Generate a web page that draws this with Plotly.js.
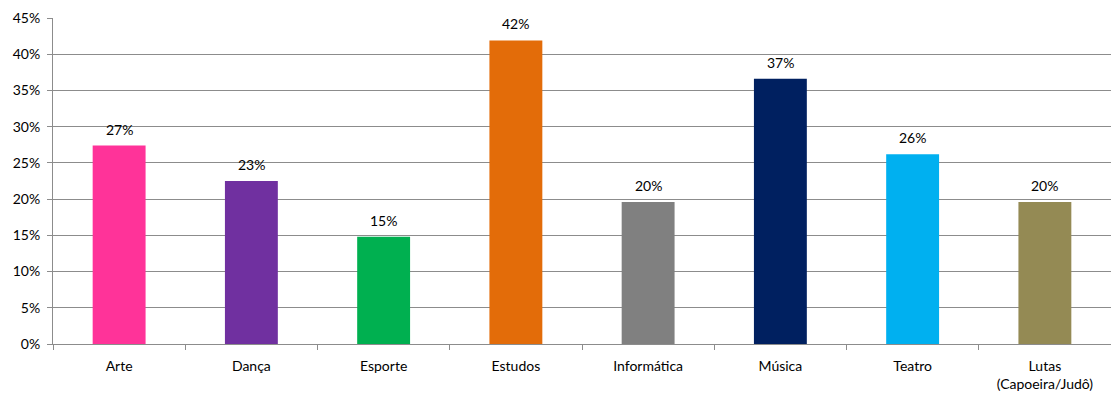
<!DOCTYPE html>
<html>
<head>
<meta charset="utf-8">
<script src="https://cdn.plot.ly/plotly-3.0.1.min.js"></script>
<style>html,body{margin:0;padding:0;background:#fff;}#chart{width:1111px;height:394px;}</style>
</head>
<body>
<div id="chart"></div>
<script>
var categories = ["Arte", "Dança", "Esporte", "Estudos", "Informática", "Música", "Teatro", "Lutas<br>(Capoeira/Judô)"];
var values = [0.274, 0.225, 0.148, 0.419, 0.196, 0.366, 0.262, 0.196];
var labels = ["27%", "23%", "15%", "42%", "20%", "37%", "26%", "20%"];
var colors = ["#FF3399", "#7030A0", "#00B050", "#E36C09", "#808080", "#002060", "#00B0F0", "#948A54"];
var yTickVals = [0, 0.05, 0.10, 0.15, 0.20, 0.25, 0.30, 0.35, 0.40, 0.45];
var yTickText = ["0%", "5%", "10%", "15%", "20%", "25%", "30%", "35%", "40%", "45%"];

var font = {family: "Lato, 'Open Sans', sans-serif", size: 14, color: "#000"};

var trace = {
  type: "bar",
  x: categories,
  y: values,
  marker: {color: colors, line: {width: 0}},
  width: 0.4,
  hoverinfo: "none"
};

var annotations = categories.map(function(c, i) {
  return {x: c, y: values[i], text: labels[i], showarrow: false, yanchor: "bottom", yshift: 6, font: font};
});

var layout = {
  width: 1111, height: 394,
  margin: {l: 53, r: 0, t: 18, b: 50},
  paper_bgcolor: "#fff", plot_bgcolor: "#fff",
  showlegend: false,
  font: font,
  bargap: 0.6,
  xaxis: {
    type: "category",
    range: [-0.5, 7.5],
    showline: true, linecolor: "#8c8c8c", linewidth: 1,
    ticks: "outside", tickson: "boundaries", ticklen: 5, tickcolor: "#8c8c8c",
    ticklabelstandoff: 9,
    showgrid: false, tickfont: font, automargin: false
  },
  yaxis: {
    range: [0, 0.45],
    tickvals: yTickVals, ticktext: yTickText,
    showline: true, linecolor: "#8c8c8c", linewidth: 1,
    ticks: "outside", ticklen: 5, tickcolor: "#8c8c8c",
    ticklabelstandoff: 4,
    showgrid: true, gridcolor: "#8c8c8c", gridwidth: 1,
    zeroline: false, tickfont: font, automargin: false
  },
  annotations: annotations
};

Plotly.newPlot("chart", [trace], layout, {displayModeBar: false, staticPlot: true});
</script>
</body>
</html>
